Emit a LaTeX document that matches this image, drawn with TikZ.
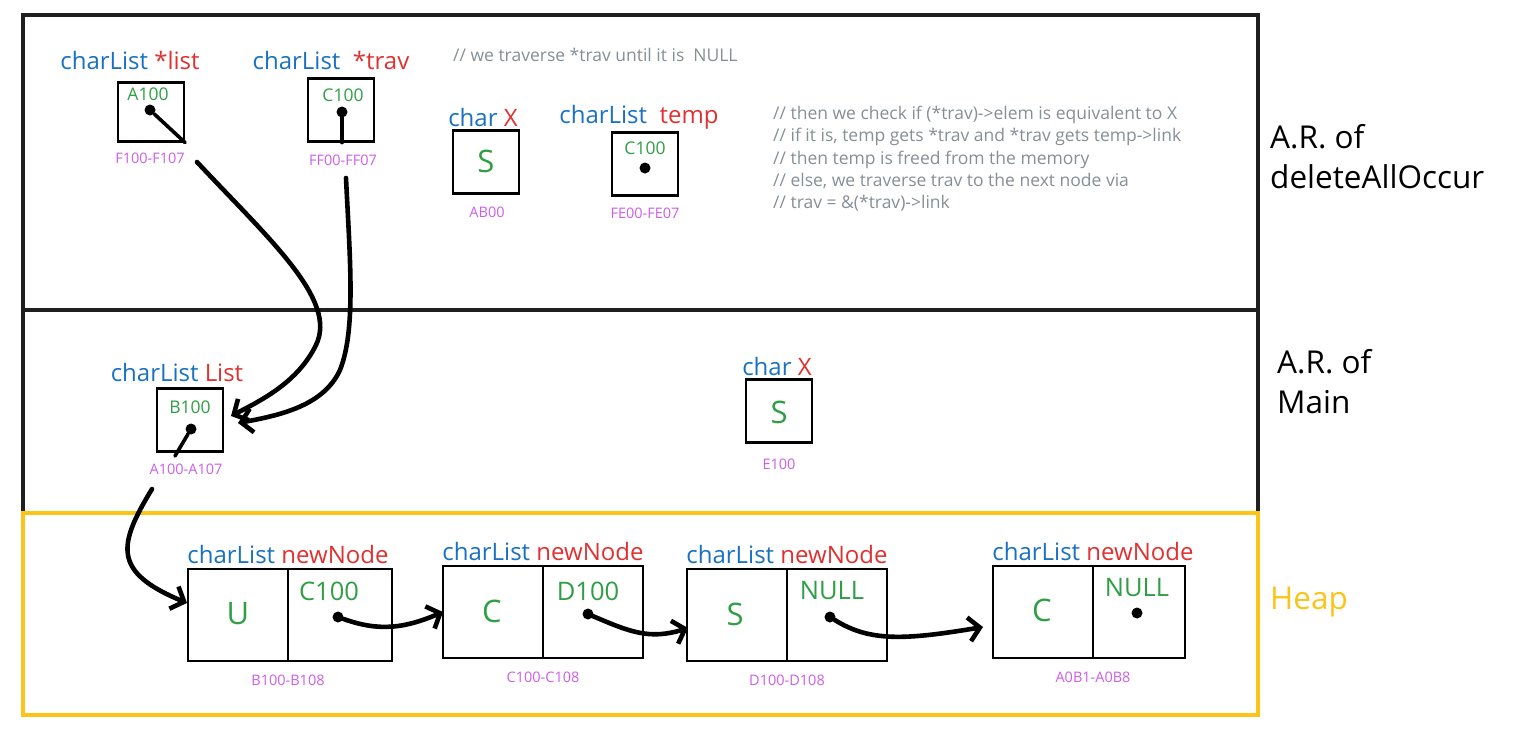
\documentclass[tikz,border=0pt]{standalone}
\usepackage{fontspec}
\setmainfont{Open Sans}
\usetikzlibrary{arrows.meta,positioning}
\definecolor{tblue}{HTML}{1971C2}
\definecolor{tred}{HTML}{E03131}
\definecolor{tgreen}{HTML}{2F9E44}
\definecolor{taddr}{HTML}{CC5DE8}
\definecolor{tgray}{HTML}{868E96}
\definecolor{theap}{HTML}{FCC419}
\newcommand\typedvar[2]{\textcolor{tblue}{#1}\ \textcolor{tred}{#2}}
\tikzset{
  frame/.style={draw=black!88, line width=3.4pt},
  cell/.style={draw, line width=2.2pt, minimum width=66pt, minimum height=63pt, inner sep=0pt},
  hcell/.style={draw, line width=2.2pt, minimum width=100pt, minimum height=92pt, inner sep=0pt, outer sep=0pt},
  decl/.style={font=\fontsize{24}{28}\selectfont, inner sep=0pt},
  val/.style={text=tgreen, font=\fontsize{17.5}{20}\selectfont, inner sep=0pt},
  hval/.style={text=tgreen, font=\fontsize{25.5}{28}\selectfont, inner sep=0pt},
  bigval/.style={text=tgreen, font=\fontsize{31}{34}\selectfont, inner sep=0pt},
  addr/.style={text=taddr, font=\fontsize{14.5}{16}\selectfont, inner sep=0pt},
  note/.style={text=tgray, font=\fontsize{17.5}{22.3}\selectfont, align=left, inner sep=0pt},
  side/.style={font=\fontsize{31.5}{40}\selectfont, align=left, anchor=north west, inner sep=0pt},
  dot/.style={circle, fill, inner sep=0pt, minimum size=11pt},
  ptr/.style={line width=3.6pt, line cap=round},
  link/.style={line width=4.6pt, line cap=round, -{Straight Barb[length=11pt,width=24pt]}},
}
\begin{document}
\begin{tikzpicture}[x=1pt,y=-1pt]
  \useasboundingbox (0,0) rectangle (1518,734);
  \draw[frame] (23,15) rectangle (1258,310);
  \draw[frame] (23,310) rectangle (1258,513);
  \draw[frame, draw=theap] (23,513) rectangle (1258,715);
  \node[side] (arDel) at (1270,124) {A.R. of\\deleteAllOccur};
  \node[side] (arMain) at (1277,349) {A.R. of\\Main};
  \node[side, anchor=west, text=theap] (heapLbl) at (1270,602) {Heap};

  \node[decl] (listLbl) at (130,60) {\typedvar{charList}{*list}};
  \node[cell, minimum height=59pt] (listBox) at (151,112) {};
  \node[val] (listVal) at (148,94) {A100};
  \node[dot] (listDot) at (150,110) {};
  \node[addr] (listAddr) at (150,158) {F100-F107};
  \draw[ptr] (listDot) -- (listBox.south east);

  \node[decl] (travLbl) at (331,60) {\typedvar{charList}{\ *trav}};
  \node[cell] (travBox) at (341,110) {};
  \node[val] (travVal) at (343,95) {C100};
  \node[dot] (travDot) at (342,112) {};
  \node[addr] (travAddr) at (343,160) {FF00-FF07};
  \draw[ptr] (travDot) -- (travDot |- travBox.south);

  \node[note, anchor=west] (noteTrav) at (453,55) {// we traverse *trav until it is\ \ NULL};

  \node[decl] (xLbl) at (483,117) {\typedvar{char}{X}};
  \node[cell] (xBox) at (486,162) {};
  \node[bigval] (xVal) at (486,161) {S};
  \node[addr] (xAddr) at (487,212) {AB00};

  \node[decl] (tempLbl) at (639,117) {\typedvar{charList}{\ temp}};
  \node[cell] (tempBox) at (645,164) {};
  \node[val] (tempVal) at (645,148) {C100};
  \node[dot] (tempDot) at (645,168) {};
  \node[addr] (tempAddr) at (645,213) {FE00-FE07};

  \node[note, anchor=north west] (noteCheck) at (773,106) {// then we check if (*trav)->elem is equivalent to X\\
    // if it is, temp gets *trav and *trav gets temp->link\\
    // then temp is freed from the memory\\
    // else, we traverse trav to the next node via\\
    // trav = \&(*trav)->link};

  \node[decl] (mainLbl) at (177,372) {\typedvar{charList}{List}};
  \node[cell] (mainBox) at (190,420) {};
  \node[val] (mainVal) at (190,407) {B100};
  \node[dot] (mainDot) at (191,429) {};
  \node[addr] (mainAddr) at (186,469) {A100-A107};
  \draw[ptr] (mainDot) -- (175,456);

  \node[decl] (mxLbl) at (777,366) {\typedvar{char}{X}};
  \node[cell] (mxBox) at (779,411) {};
  \node[bigval] (mxVal) at (779,412) {S};
  \node[addr] (mxAddr) at (779,464) {E100};

  \coordinate (listOut) at (197,162);
  \coordinate (travOut) at (346,178);
  \coordinate (mainIn1) at (231,416);
  \coordinate (mainIn2) at (238,423);
  \draw[link] (listOut) .. controls (270,240) and (338,300) .. (316,345) .. controls (298,382) and (262,400) .. (mainIn1);
  \draw[link] (travOut) .. controls (350,260) and (356,330) .. (340,370) .. controls (324,405) and (282,415) .. (mainIn2);

  \node[hcell] (n1d) at (238,615) {};
  \node[hcell, right=0pt of n1d, minimum width=104pt] (n1l) {};
  \node[decl, above=5pt of n1d.north east] (n1Lbl) {\typedvar{charList}{newNode}};
  \node[bigval] (n1Val) at (238,614) {U};
  \node[hval] (n1Next) at (329,591) {C100};
  \node[dot] (n1Dot) at (338,617) {};
  \node[addr, below=14pt of n1d.south east] (n1Addr) {B100-B108};

  \node[hcell] (n2d) at (493,612) {};
  \node[hcell, right=0pt of n2d] (n2l) {};
  \node[decl, above=5pt of n2d.north east] (n2Lbl) {\typedvar{charList}{newNode}};
  \node[bigval] (n2Val) at (492,611) {C};
  \node[hval] (n2Next) at (588,591) {D100};
  \node[dot] (n2Dot) at (588,614) {};
  \node[addr, below=14pt of n2d.south east] (n2Addr) {C100-C108};

  \node[hcell] (n3d) at (737,615) {};
  \node[hcell, right=0pt of n3d] (n3l) {};
  \node[decl, above=5pt of n3d.north east] (n3Lbl) {\typedvar{charList}{newNode}};
  \node[bigval] (n3Val) at (735,614) {S};
  \node[hval] (n3Next) at (832,591) {NULL};
  \node[dot] (n3Dot) at (830,617) {};
  \node[addr, below=14pt of n3d.south east] (n3Addr) {D100-D108};

  \node[hcell] (n4d) at (1043,612) {};
  \node[hcell, right=0pt of n4d, minimum width=92pt] (n4l) {};
  \node[decl, above=5pt of n4d.north east] (n4Lbl) {\typedvar{charList}{newNode}};
  \node[bigval] (n4Val) at (1042,610) {C};
  \node[hval] (n4Next) at (1137,588) {NULL};
  \node[dot] (n4Dot) at (1137,613) {};
  \node[addr, below=14pt of n4d.south east] (n4Addr) {A0B1-A0B8};

  \coordinate (mainOut) at (152,489);
  \coordinate (n1In) at (187,603);
  \coordinate (n3In) at (688,628);
  \coordinate (n4In) at (983,627);
  \draw[link] (mainOut) .. controls (118,545) and (112,572) .. (n1In);
  \draw[link] (n1Dot) .. controls (380,632) and (405,628) .. (n2d.west);
  \draw[link] (n2Dot) .. controls (630,632) and (650,640) .. (n3In);
  \draw[link] (n3Dot) .. controls (870,642) and (905,640) .. (n4In);
\end{tikzpicture}
\end{document}
